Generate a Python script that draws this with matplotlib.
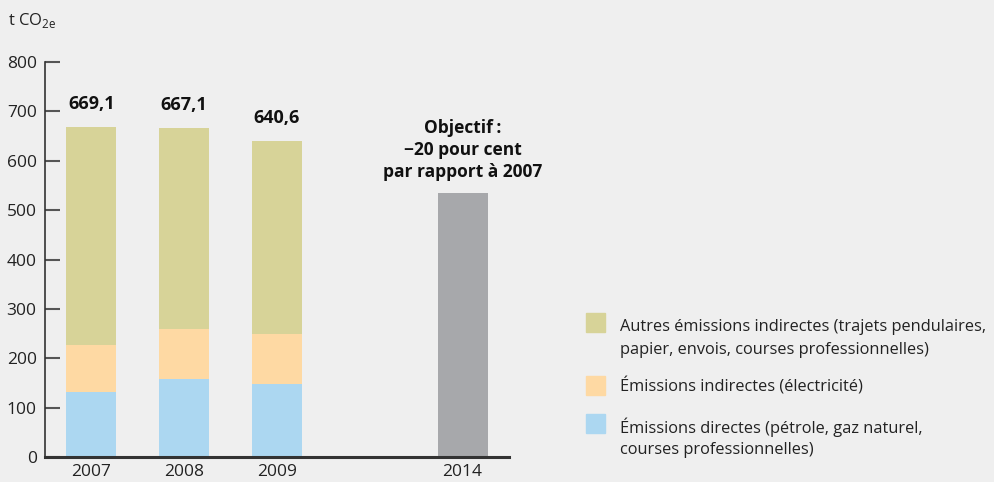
import numpy as np
import matplotlib.pyplot as plt
from matplotlib.patches import Rectangle

plt.rcParams['font.family'] = ['Open Sans', 'DejaVu Sans']

# data
years = ['2007', '2008', '2009', '2014']
positions = [0, 1, 2, 4]
direct = [131, 158, 148]
electricity = [95, 101, 101]
totals = [669.1, 667.1, 640.6]
other = [t - d - e for t, d, e in zip(totals, direct, electricity)]
target = totals[0] * 0.8
total_labels = ['669,1', '667,1', '640,6']

legend_labels = [
    'Autres émissions indirectes (trajets pendulaires,\npapier, envois, courses professionnelles)',
    'Émissions indirectes (électricité)',
    'Émissions directes (pétrole, gaz naturel,\ncourses professionnelles)',
]

c_other = '#d7d398'
c_elec = '#fed9a3'
c_direct = '#acd7f1'
c_target = '#a7a8ab'
bg = '#efefef'

W, H = 995, 482
fig = plt.figure(figsize=(W / 100, H / 100), dpi=100, facecolor=bg)
ax = fig.add_axes([45 / W, 25 / H, (509 - 45) / W, (457 - 62) / H], facecolor=bg)

x = np.array(positions[:3])
bw = 0.54
ax.bar(x, direct, bw, color=c_direct)
ax.bar(x, electricity, bw, bottom=direct, color=c_elec)
ax.bar(x, other, bw, bottom=np.add(direct, electricity), color=c_other)
ax.bar(positions[3], target, bw, color=c_target)

for xi, t, lab in zip(x, totals, total_labels):
    ax.text(xi, t + 46, lab, ha='center', va='center', fontsize=13, fontweight='bold', color='#111111')

ax.text(positions[3], target + 86, 'Objectif\u2009:\n\u221220 pour cent\npar rapport à 2007',
        ha='center', va='center', fontsize=12.5, fontweight='bold', color='#111111',
        linespacing=1.3)

ax.set_xlim(-0.5, 4.5)
ax.set_ylim(0, 800)
ax.set_xticks(positions)
ax.set_xticklabels(years)
ax.set_yticks(range(0, 801, 100))
ax.tick_params(axis='y', direction='in', length=11, width=1.5, color='#555555',
               labelsize=12.5, pad=6, labelcolor='#222222')
ax.tick_params(axis='x', length=0, labelsize=12.5, pad=5, labelcolor='#222222')
for s in ['top', 'right']:
    ax.spines[s].set_visible(False)
ax.spines['left'].set_color('#333333')
ax.spines['left'].set_linewidth(1.2)
ax.spines['bottom'].set_color('#333333')
ax.spines['bottom'].set_linewidth(2.2)

fig.text(8 / W, 1 - 20 / H, 't CO$_{\\mathregular{2e}}$', fontsize=12, va='center',
         color='#222222')

# legend
leg_colors = [c_other, c_elec, c_direct]
sq_top = [313, 376, 414]
txt_y = [327, 387, 427]
for col, lab, st, ty in zip(leg_colors, legend_labels, sq_top, txt_y):
    fig.patches.append(Rectangle((586 / W, 1 - (st + 19) / H), 19 / W, 19 / H,
                                 transform=fig.transFigure, color=col))
    for i, line in enumerate(lab.split('\n')):
        fig.text(620 / W, 1 - (ty + 23 * i) / H, line, fontsize=11.8, va='center',
                 color='#222222')

fig.savefig('out.png', dpi=100, facecolor=bg)
